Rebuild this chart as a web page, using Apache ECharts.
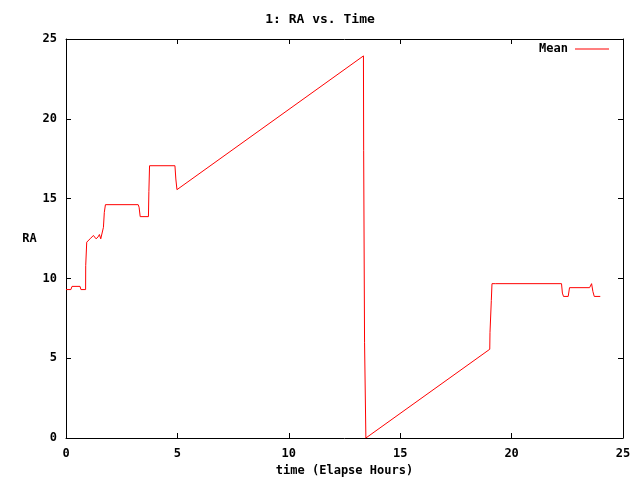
<!DOCTYPE html>
<html>
<head>
<meta charset="utf-8">
<script src="https://cdn.jsdelivr.net/npm/echarts@6/dist/echarts.min.js"></script>
<style>html,body{margin:0;padding:0;background:#fff}#c{width:640px;height:480px}</style>
</head>
<body>
<div id="c"></div>
<script>
var titleText = "1: RA vs. Time";
var xName = "time (Elapse Hours)";
var yName = "RA";
var seriesName = "Mean";
var xTicks = [0, 5, 10, 15, 20, 25];
var yTicks = [0, 5, 10, 15, 20, 25];
var times = [0, 0.22, 0.27, 0.63, 0.67, 0.88, 0.885, 0.93, 1.08, 1.23, 1.29, 1.35, 1.44, 1.50, 1.56, 1.63, 1.68, 1.72, 1.77, 3.24, 3.28, 3.33, 3.70, 3.72, 3.75, 4.89, 4.93, 4.98, 13.35, 13.36, 13.40, 13.46, 19.02, 19.03, 19.09, 19.12, 19.18, 19.29, 22.24, 22.28, 22.33, 22.54, 22.60, 23.50, 23.59, 23.65, 23.71, 23.98];
var meanRA = [9.3, 9.3, 9.5, 9.5, 9.3, 9.3, 10.8, 12.27, 12.48, 12.69, 12.75, 12.48, 12.6, 12.75, 12.48, 12.6, 13.2, 14.14, 14.62, 14.62, 14.46, 13.87, 13.87, 15.44, 17.06, 17.06, 16.23, 15.56, 23.94, 18.0, 6.0, 0, 5.56, 6.6, 8.62, 9.67, 9.55, 9.67, 9.67, 9.08, 8.87, 8.87, 9.42, 9.42, 9.67, 9.17, 8.87, 8.87];

var data = times.map(function (t, i) { return [t, meanRA[i]]; });
var font = '"DejaVu Sans Mono", "Liberation Mono", monospace';
var lineStyleAxis = { color: '#000', width: 1 };

function axisCommon(extra) {
  var base = {
    type: 'value', min: 0, max: 25, interval: 5,
    axisLine: { show: true, onZero: false, lineStyle: lineStyleAxis },
    axisTick: { show: true, inside: true, length: 5, lineStyle: lineStyleAxis },
    splitLine: { show: false }
  };
  for (var k in extra) base[k] = extra[k];
  return base;
}

var chart = echarts.init(document.getElementById('c'), null, { renderer: 'canvas' });
chart.setOption({
  animation: false,
  backgroundColor: '#fff',
  title: {
    text: titleText, left: 'center', top: 8,
    textStyle: { fontFamily: font, fontSize: 13, fontWeight: 'bold', color: '#000' }
  },
  legend: {
    right: 26, top: 38, align: 'right',
    icon: 'rect', itemWidth: 34, itemHeight: 1, itemGap: 6,
    textStyle: { fontFamily: font, fontSize: 12, fontWeight: 'bold', color: '#000', padding: [0, 2, 0, 0] },
    data: [seriesName]
  },
  grid: { left: 66, right: 17, top: 39, bottom: 42, containLabel: false, outerBoundsMode: 'none' },
  xAxis: [
    axisCommon({
      position: 'bottom', name: xName, nameLocation: 'middle', nameGap: 27,
      nameTextStyle: { fontFamily: font, fontSize: 12, fontWeight: 'bold', color: '#000' },
      axisLabel: { margin: 10, fontFamily: font, fontSize: 12, fontWeight: 'bold', color: '#000',
        formatter: function (v) { return xTicks.indexOf(v) >= 0 ? String(v) : ''; } }
    }),
    axisCommon({ position: 'top', axisLabel: { show: false } })
  ],
  yAxis: [
    axisCommon({
      position: 'left', name: yName, nameLocation: 'middle', nameGap: 29, nameRotate: 0,
      nameTextStyle: { fontFamily: font, fontSize: 12, fontWeight: 'bold', color: '#000' },
      axisLabel: { margin: 9, fontFamily: font, fontSize: 12, fontWeight: 'bold', color: '#000',
        formatter: function (v) { return yTicks.indexOf(v) >= 0 ? String(v) : ''; } }
    }),
    axisCommon({ position: 'right', axisLabel: { show: false } })
  ],
  series: [{
    name: seriesName, type: 'line', xAxisIndex: 0, yAxisIndex: 0,
    data: data, symbol: 'none', showSymbol: false,
    lineStyle: { color: '#ff0000', width: 1 },
    itemStyle: { color: '#ff0000' }
  }]
});
</script>
</body>
</html>
